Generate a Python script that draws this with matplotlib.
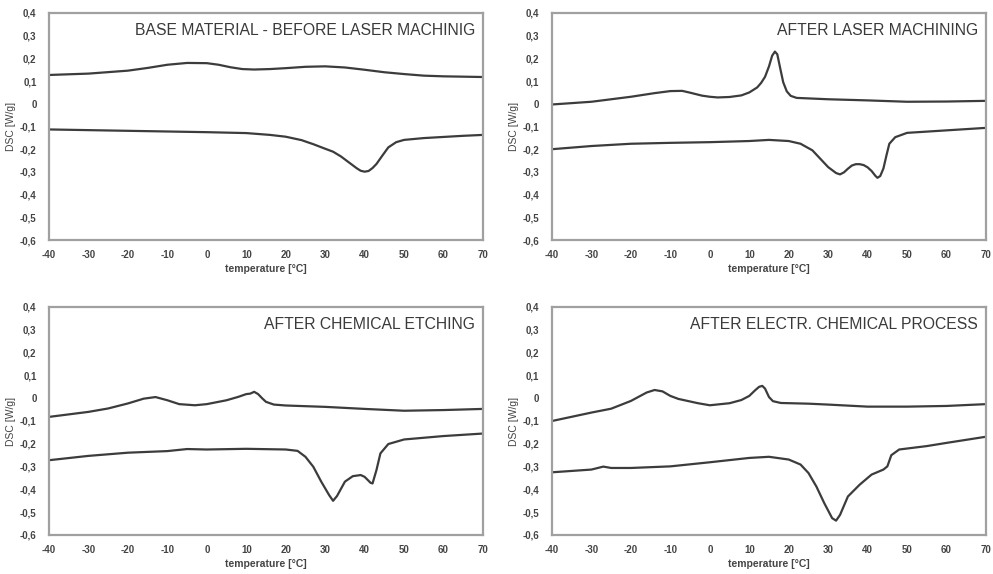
import matplotlib
matplotlib.use("Agg")
import matplotlib.pyplot as plt

plt.rcParams['font.family'] = ['Liberation Sans', 'DejaVu Sans']

# panel titles
titles = [
    "BASE MATERIAL - BEFORE LASER MACHINIG",
    "AFTER LASER MACHINING",
    "AFTER CHEMICAL ETCHING",
    "AFTER ELECTR. CHEMICAL PROCESS",
]

# --- base material
base_up_t = [-40, -30, -20, -15, -10, -5, 0, 3, 6, 9, 12, 16, 20, 25, 30, 35, 40, 45, 50, 55, 60, 70]
base_up_v = [0.127, 0.133, 0.146, 0.158, 0.172, 0.180, 0.179, 0.172, 0.161, 0.153, 0.151, 0.153, 0.157, 0.163, 0.165, 0.160, 0.150, 0.139, 0.131, 0.124, 0.121, 0.118]
base_lo_t = [-40, -20, 0, 10, 16, 20, 24, 27, 30, 32, 34, 36, 38, 39, 40, 41, 42, 43, 44.5, 46, 48, 50, 55, 60, 65, 70]
base_lo_v = [-0.113, -0.119, -0.125, -0.129, -0.137, -0.145, -0.160, -0.178, -0.198, -0.211, -0.232, -0.258, -0.284, -0.295, -0.299, -0.296, -0.283, -0.265, -0.228, -0.192, -0.169, -0.159, -0.151, -0.146, -0.141, -0.137]

# --- after laser machining
laser_up_t = [-40, -30, -20, -14, -10, -7, -5, -2, 0, 2, 5, 8, 10, 12, 13, 14, 15, 15.8, 16.5, 17.1, 17.8, 18.6, 19.5, 20.5, 22, 30, 40, 50, 60, 70]
laser_up_v = [-0.003, 0.009, 0.031, 0.047, 0.056, 0.057, 0.049, 0.036, 0.031, 0.028, 0.030, 0.037, 0.050, 0.072, 0.092, 0.119, 0.165, 0.212, 0.230, 0.218, 0.160, 0.095, 0.055, 0.035, 0.026, 0.020, 0.015, 0.009, 0.010, 0.013]
laser_lo_t = [-40, -30, -20, -10, 0, 10, 15, 20, 23, 26, 28, 30, 32, 33, 34, 35, 36, 37, 38, 39, 40, 41, 42, 42.5, 43.2, 44, 44.8, 45.5, 47, 50, 60, 70]
laser_lo_v = [-0.200, -0.186, -0.176, -0.172, -0.169, -0.164, -0.159, -0.164, -0.176, -0.205, -0.242, -0.279, -0.305, -0.311, -0.302, -0.286, -0.272, -0.266, -0.266, -0.270, -0.280, -0.296, -0.318, -0.326, -0.318, -0.285, -0.225, -0.176, -0.147, -0.128, -0.117, -0.106]

# --- after chemical etching
etch_up_t = [-40, -30, -25, -20, -16, -13, -10, -7, -3, 0, 5, 8, 10, 11, 12, 13, 14, 15, 17, 20, 30, 40, 50, 60, 70]
etch_up_v = [-0.082, -0.060, -0.045, -0.023, -0.002, 0.005, -0.009, -0.026, -0.031, -0.026, -0.009, 0.006, 0.018, 0.020, 0.028, 0.018, 0.000, -0.016, -0.028, -0.032, -0.038, -0.047, -0.055, -0.052, -0.047]
etch_lo_t = [-40, -30, -20, -10, -5, 0, 10, 20, 23, 25, 27, 29, 31, 32, 33, 35, 37, 39, 40, 41.5, 42, 43, 44, 46, 50, 60, 70]
etch_lo_v = [-0.272, -0.253, -0.239, -0.232, -0.223, -0.225, -0.222, -0.225, -0.231, -0.257, -0.301, -0.366, -0.425, -0.450, -0.429, -0.366, -0.342, -0.337, -0.345, -0.371, -0.374, -0.315, -0.242, -0.201, -0.181, -0.166, -0.155]

# --- after electro-chemical process
elec_up_t = [-40, -30, -25, -20, -16, -14, -12, -10, -8, -3, 0, 5, 8, 10, 11.5, 12.5, 13.3, 14, 15, 16, 18, 25, 30, 40, 50, 60, 70]
elec_up_v = [-0.100, -0.063, -0.046, -0.012, 0.025, 0.036, 0.030, 0.010, -0.003, -0.022, -0.031, -0.022, -0.008, 0.010, 0.035, 0.050, 0.054, 0.042, 0.005, -0.013, -0.021, -0.024, -0.028, -0.037, -0.037, -0.034, -0.026]
elec_lo_t = [-40, -30, -27, -25, -20, -10, 0, 10, 15, 20, 23, 25, 27, 29, 31, 32, 33, 35, 38, 41, 44, 45, 46, 48, 55, 60, 70]
elec_lo_v = [-0.325, -0.313, -0.300, -0.306, -0.306, -0.299, -0.281, -0.262, -0.257, -0.269, -0.291, -0.328, -0.387, -0.460, -0.526, -0.537, -0.512, -0.431, -0.379, -0.335, -0.313, -0.299, -0.250, -0.225, -0.210, -0.196, -0.169]

series = [
    (base_up_t, base_up_v, base_lo_t, base_lo_v),
    (laser_up_t, laser_up_v, laser_lo_t, laser_lo_v),
    (etch_up_t, etch_up_v, etch_lo_t, etch_lo_v),
    (elec_up_t, elec_up_v, elec_lo_t, elec_lo_v),
]

x_ticks = list(range(-40, 71, 10))
y_ticks = [0.4, 0.3, 0.2, 0.1, 0.0, -0.1, -0.2, -0.3, -0.4, -0.5, -0.6]
y_labels = ["0" if v == 0 else f"{v:.1f}".replace(".", ",") for v in y_ticks]

W, H = 993, 574
fig = plt.figure(figsize=(W / 100, H / 100), dpi=100)

# axes boxes in pixels: left, top, right, bottom
boxes = [(49, 13, 483, 240), (552, 13, 986, 240),
         (49, 307, 483, 535), (552, 307, 986, 535)]

line_col = "#3c3c3c"
frame_col = "#a0a0a0"
text_col = "#444444"

for (l, t, r, b), title, (ut, uv, lt, lv) in zip(boxes, titles, series):
    ax = fig.add_axes([l / W, 1 - b / H, (r - l) / W, (b - t) / H])
    ax.plot(ut, uv, color=line_col, lw=1.6, solid_joinstyle="round")
    ax.plot(lt, lv, color=line_col, lw=1.6, solid_joinstyle="round")
    ax.set_xlim(-40, 70)
    ax.set_ylim(-0.6, 0.4)
    ax.set_xticks(x_ticks)
    ax.set_xticklabels([str(v) for v in x_ticks])
    ax.set_yticks(y_ticks)
    ax.set_yticklabels(y_labels)
    ax.tick_params(length=0, labelsize=7, labelcolor=text_col)
    ax.tick_params(axis="y", pad=9)
    ax.tick_params(axis="x", pad=7)
    for lab in ax.get_xticklabels() + ax.get_yticklabels():
        lab.set_fontweight("bold")
    for sp in ax.spines.values():
        sp.set_color(frame_col)
        sp.set_linewidth(1.6)
    ax.set_xlabel("temperature [°C]", fontsize=7.5, fontweight="bold", color=text_col, labelpad=3)
    ax.set_ylabel("DSC [W/g]", fontsize=7.5, color=text_col, labelpad=3)
    ax.text(0.982, 0.922, title, transform=ax.transAxes, ha="right", va="center",
            fontsize=11.3, color="#3a3a3a")

fig.savefig("out.png", dpi=100)
